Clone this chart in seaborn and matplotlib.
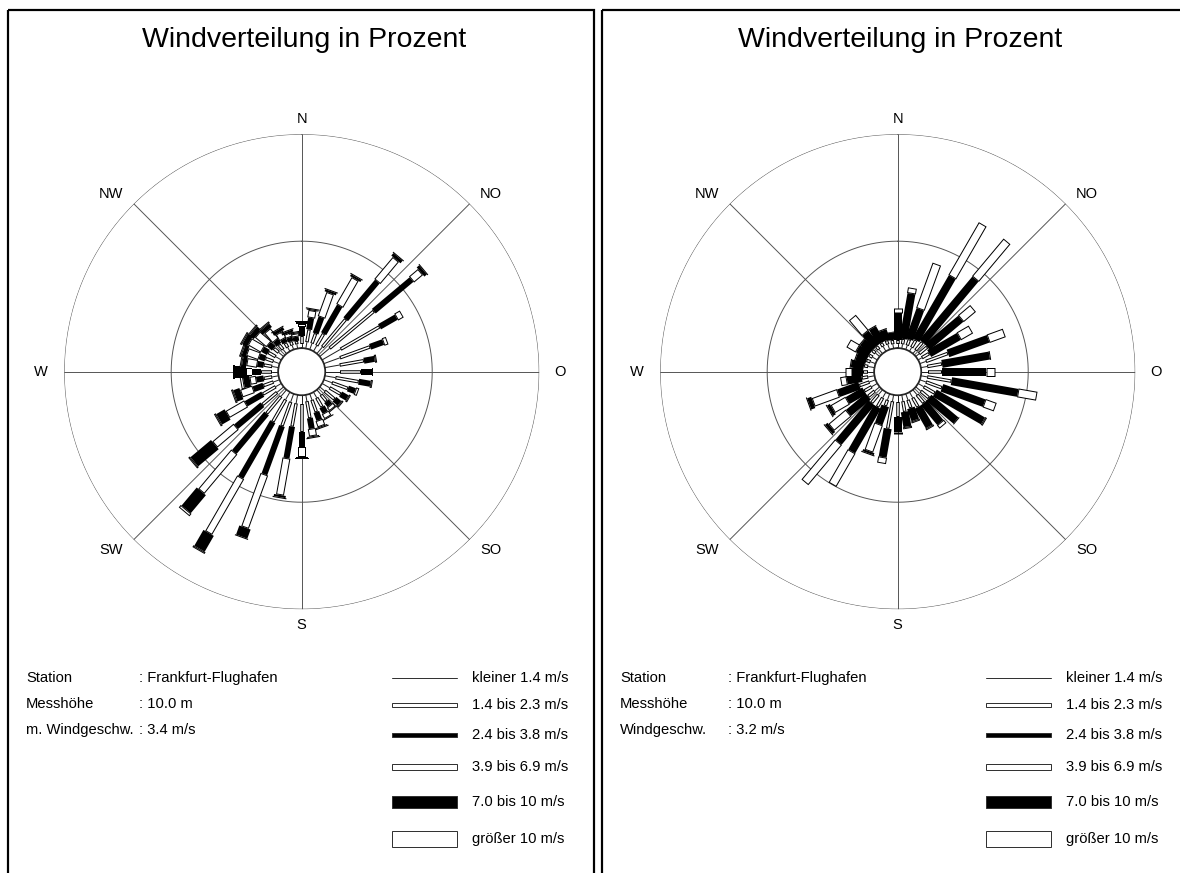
import numpy as np
import matplotlib
matplotlib.use('Agg')
import matplotlib.pyplot as plt
import seaborn as sns
from matplotlib.patches import Rectangle

sns.set_theme(style='white')
plt.rcParams['font.family'] = ['Liberation Sans', 'DejaVu Sans']
plt.rcParams['text.color'] = 'black'

# Windrichtungen (Grad), 36 Sektoren
richtung = np.arange(10, 361, 10)

# Klassen und Legende
klassen = ['kleiner 1.4 m/s', '1.4 bis 2.3 m/s', '2.4 bis 3.8 m/s',
           '3.9 bis 6.9 m/s', '7.0 bis 10 m/s', 'größer 10 m/s']

# Summenhaeufigkeit in % bis zum Ende jeder Klasse (links: Frankfurt 3.4 m/s)
links_k1 = [0.3, 0.3, 0.3, 0.4, 0.6, 1.0, 0.8, 0.7, 0.7, 0.5, 0.4, 0.4, 0.3, 0.3, 0.3, 0.3, 0.3, 0.4,
            0.4, 0.4, 0.4, 0.4, 0.4, 0.3, 0.3, 0.3, 0.3, 0.3, 0.3, 0.3, 0.3, 0.25, 0.2, 0.2, 0.2, 0.2]
links_k2 = [0.9, 0.8, 0.95, 2.1, 3.3, 3.1, 2.3, 1.85, 1.65, 1.6, 1.2, 1.0, 0.9, 0.7, 0.8, 0.9, 1.1, 1.7,
            1.5, 1.6, 1.6, 1.45, 1.3, 1.0, 0.8, 0.7, 0.8, 0.7, 0.7, 0.7, 0.6, 0.55, 0.45, 0.4, 0.35, 0.55]
links_k3 = [1.45, 1.6, 2.45, 4.4, 5.6, 4.0, 2.95, 2.35, 2.2, 2.15, 1.55, 1.35, 1.2, 0.95, 1.1, 1.3, 1.6, 2.4,
            3.0, 4.0, 4.6, 3.8, 2.9, 1.9, 1.3, 1.05, 1.2, 1.0, 1.0, 1.0, 0.9, 0.8, 0.65, 0.6, 0.55, 1.0]
links_k4 = [1.8, 2.8, 3.9, 5.75, 6.15, 4.3, 3.15, 2.45, 2.25, 2.25, 1.7, 1.45, 1.3, 1.15, 1.35, 1.6, 1.95, 2.9,
            4.75, 6.65, 7.6, 6.2, 4.2, 2.9, 1.9, 1.35, 1.5, 1.5, 1.6, 1.7, 1.6, 1.4, 1.0, 0.8, 0.7, 1.15]
links_k5 = [1.85, 2.9, 4.0, 5.9, 6.3, 4.3, 3.15, 2.45, 2.25, 2.25, 1.7, 1.45, 1.3, 1.2, 1.4, 1.65, 2.0, 2.95,
            4.85, 7.1, 8.45, 7.3, 5.45, 3.35, 2.2, 1.65, 2.0, 1.7, 1.8, 1.95, 1.85, 1.6, 1.15, 0.9, 0.75, 1.2]
links_k6 = [1.9, 2.95, 4.05, 5.95, 6.35, 4.3, 3.15, 2.45, 2.25, 2.25, 1.7, 1.45, 1.3, 1.2, 1.4, 1.7, 2.05, 3.0,
            4.9, 7.15, 8.55, 7.45, 5.55, 3.45, 2.3, 1.8, 2.1, 1.8, 1.9, 2.05, 1.95, 1.7, 1.2, 0.95, 0.8, 1.25]

# rechts: Frankfurt 3.2 m/s
rechts_k1 = [0.2, 0.2, 0.2, 0.2, 0.2, 0.2, 0.3, 0.3, 0.3, 0.3, 0.3, 0.3, 0.3, 0.3, 0.3, 0.3, 0.3, 0.3,
             0.3, 0.3, 0.3, 0.3, 0.3, 0.3, 0.3, 0.3, 0.3, 0.3, 0.25, 0.25, 0.25, 0.25, 0.25, 0.25, 0.2, 0.2]
rechts_k2 = [0.45, 0.5, 0.6, 0.7, 0.7, 0.6, 1.4, 1.0, 0.95, 1.45, 1.1, 0.9, 0.8, 0.8, 0.8, 0.7, 0.8, 1.0,
             1.6, 0.6, 0.8, 0.8, 0.7, 0.7, 0.8, 0.6, 0.5, 0.5, 0.45, 0.45, 0.45, 0.45, 0.45, 0.45, 0.4, 0.4]
rechts_k3 = [2.6, 2.0, 4.0, 4.55, 2.75, 2.2, 3.4, 3.25, 3.05, 4.6, 3.2, 3.5, 2.45, 2.0, 1.85, 1.3, 1.5, 1.7,
             2.95, 1.5, 3.2, 3.2, 1.9, 1.6, 1.85, 1.3, 1.05, 1.1, 0.95, 1.05, 1.05, 1.25, 1.25, 0.95, 0.75, 1.64]
rechts_k4 = [2.87, 4.25, 6.85, 6.85, 3.5, 2.85, 4.2, 3.3, 3.45, 5.5, 3.75, 3.6, 2.5, 2.2, 1.95, 1.4, 1.6, 1.8,
             3.25, 2.85, 5.0, 5.65, 2.95, 2.4, 3.1, 1.6, 1.37, 1.15, 1.0, 1.55, 1.1, 2.2, 1.3, 1.0, 0.78, 1.87]
rechts_k5 = [2.87, 4.25, 6.85, 6.85, 3.5, 2.85, 4.2, 3.3, 3.45, 5.5, 3.75, 3.6, 2.5, 2.2, 1.95, 1.4, 1.6, 1.8,
             3.25, 2.95, 5.0, 5.65, 3.1, 2.55, 3.3, 1.6, 1.37, 1.15, 1.0, 1.55, 1.1, 2.2, 1.3, 1.0, 0.78, 1.87]
rechts_k6 = [2.87, 4.25, 6.85, 6.85, 3.5, 2.85, 4.2, 3.3, 3.45, 5.5, 3.75, 3.6, 2.5, 2.2, 1.95, 1.4, 1.6, 1.8,
             3.25, 3.0, 5.0, 5.65, 3.15, 2.6, 3.35, 1.6, 1.37, 1.15, 1.0, 1.55, 1.1, 2.2, 1.3, 1.0, 0.78, 1.87]

himmelsrichtung = ['N', 'NO', 'O', 'SO', 'S', 'SW', 'W', 'NW']
info_links = [('Station', ': Frankfurt-Flughafen'), ('Messhöhe', ': 10.0 m'), ('m. Windgeschw.', ': 3.4 m/s')]
info_rechts = [('Station', ': Frankfurt-Flughafen'), ('Messhöhe', ': 10.0 m'), ('Windgeschw.', ': 3.2 m/s')]

# layout (pixels)
W, H = 1180, 873
R_PX = 237.5      # radius of the 10 % ring
CY = 371.7
R0 = 1.1          # calm circle as radial offset (in %)
schwarz = [True, False, True, False, True, False]
# label offsets from the rose centre (px)
label_dx = [0, 189, 258, 189, 0, -191, -261, -191]
label_dy = [-253, -178, 0, 178, 253, 178, 0, -178]


def pt(p):
    return p * 0.72


fig = plt.figure(figsize=(W / 100, H / 100), dpi=100)
ax_txt = fig.add_axes([0, 0, 1, 1])
ax_txt.set_xlim(0, W)
ax_txt.set_ylim(H, 0)
ax_txt.axis('off')


def segment(ax, th, r1, r2, w, black):
    ax.plot([th, th], [r1, r2], color='black', lw=pt(w), solid_capstyle='butt')
    if not black and w > 2:
        d = 0.045
        if r2 - r1 > 2 * d:
            ax.plot([th, th], [r1 + d, r2 - d], color='white', lw=pt(w - 2), solid_capstyle='butt')


def rose(cx, stufen, breite):
    ax = fig.add_axes([(cx - R_PX) / W, (H - CY - R_PX) / H, 2 * R_PX / W, 2 * R_PX / H],
                      projection='polar')
    ax.set_theta_zero_location('N')
    ax.set_theta_direction(-1)
    ax.set_rorigin(-R0)
    ax.set_ylim(0, 10)
    ax.grid(False)
    ax.set_xticks([])
    ax.set_yticks([])
    ax.spines['polar'].set_visible(False)
    ax.patch.set_alpha(0)

    t = np.linspace(0, 2 * np.pi, 500)
    for r in (0, 5, 10):
        ax.plot(t, np.full_like(t, r), color='#555555', lw=0.7)
    for a in range(0, 360, 45):
        ax.plot([np.deg2rad(a)] * 2, [0, 10], color='#555555', lw=0.7)

    for i, d in enumerate(richtung):
        th = np.deg2rad(d)
        start = 0.0
        for k in range(6):
            ende = stufen[k][i]
            if ende > start:
                if k == 0:
                    ax.plot([th, th], [start, ende], color='#222222', lw=pt(1.0), solid_capstyle='butt')
                else:
                    segment(ax, th, start, ende, breite[k], schwarz[k])
                start = ende

    for r, s in ((5, '5%'), (10, '10%')):
        ax.annotate(s, xy=(np.pi / 2, r), xytext=(0, -3.6), textcoords='offset points',
                    ha='right', va='top', fontsize=10.5)
    return ax


def panel(x0, x1, cx, stufen, breite, info, info_x, col_x, leg_x0, leg_x1, txt_x):
    ax_txt.add_patch(Rectangle((x0, 9.5), x1 - x0, 900, fill=False, lw=pt(2.2), color='black'))
    ax_txt.text(cx + 2, 47, 'Windverteilung in Prozent', ha='center', va='baseline', fontsize=20.5)
    rose(cx, stufen, breite)
    for name, dx, dy in zip(himmelsrichtung, label_dx, label_dy):
        ax_txt.text(cx + dx, CY + dy, name, ha='center', va='center', fontsize=10.5)
    for (a, b), y in zip(info, [678, 704, 730]):
        ax_txt.text(info_x, y, a, ha='left', va='center', fontsize=10.6)
        ax_txt.text(col_x, y, b, ha='left', va='center', fontsize=10.6)
    ys = [678, 705, 735, 767, 802, 839]
    hs = [1.0, 3.8, 4.8, 6.8, 11.3, 15.5]
    for k, y in enumerate(ys):
        if k == 0:
            ax_txt.plot([leg_x0, leg_x1], [y, y], color='#333333', lw=pt(1.0))
        else:
            fc = 'black' if schwarz[k] else 'white'
            ax_txt.add_patch(Rectangle((leg_x0, y - hs[k] / 2), leg_x1 - leg_x0, hs[k],
                                       facecolor=fc, edgecolor='#333333', lw=pt(1.0)))
        ax_txt.text(txt_x, y, klassen[k], ha='left', va='center', fontsize=10.6)


panel(8, 594, 301.7, [links_k1, links_k2, links_k3, links_k4, links_k5, links_k6],
      [1.0, 3.5, 6.0, 8.0, 12.0, 14.0], info_links, 26, 139, 392, 457, 472)
panel(602, 1185, 897.7, [rechts_k1, rechts_k2, rechts_k3, rechts_k4, rechts_k5, rechts_k6],
      [1.0, 3.5, 8.0, 9.0, 12.0, 14.0], info_rechts, 620, 728, 986, 1051, 1066)

fig.savefig('out.png', dpi=100)
